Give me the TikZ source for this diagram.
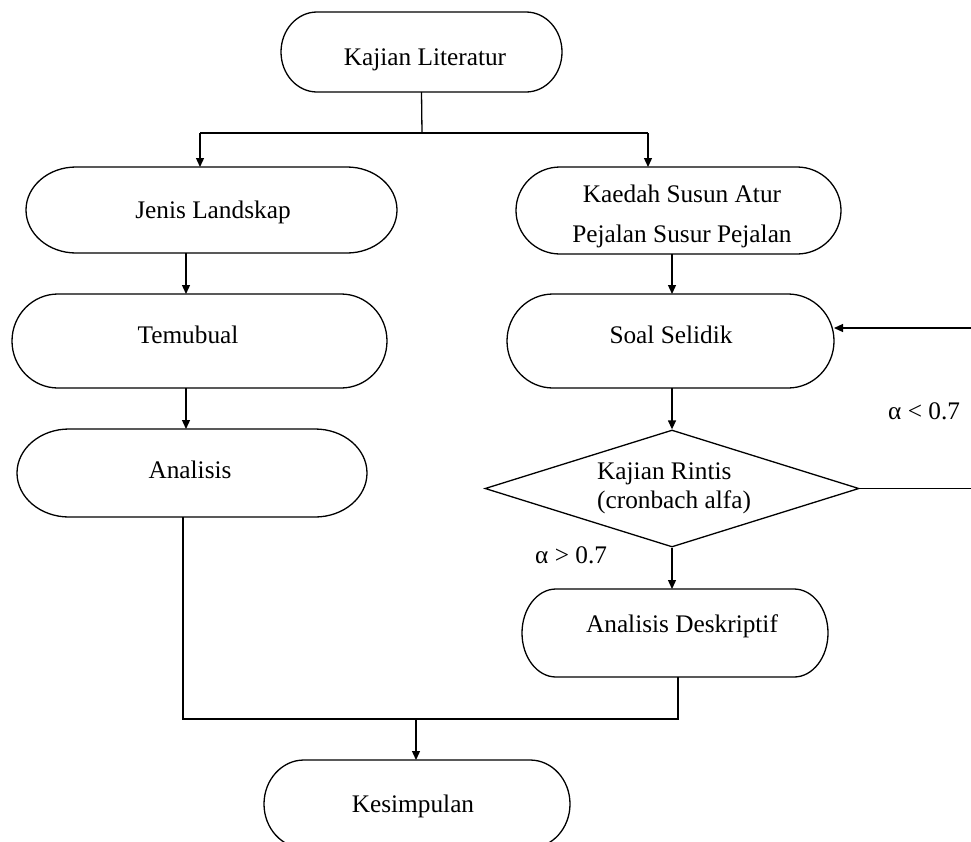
\documentclass[tikz,border=0pt]{standalone}
\usepackage{fontspec}
\setmainfont{Liberation Serif}
\usetikzlibrary{arrows.meta,shapes.geometric,calc}
\newcommand\stadium[3]{%
  \draw[outline] ($(#1.north west)+(#2,0)$) -- ($(#1.north east)+(-#2,0)$)
    arc[start angle=90,end angle=-90,x radius=#2pt,y radius=#3pt]
    -- ($(#1.south west)+(#2,0)$)
    arc[start angle=270,end angle=90,x radius=#2pt,y radius=#3pt] -- cycle;}
\begin{document}
\begin{tikzpicture}[x=1pt,y=-1pt,
  outline/.style={line width=1.3pt},
  box/.style={rectangle, line width=1.3pt, outer sep=0pt, inner sep=0pt},
  dia/.style={draw, diamond, line width=1.3pt, inner sep=0pt},
  txt/.style={font=\fontsize{25.3}{30}\selectfont, inner sep=0pt, anchor=base},
  conn/.style={line width=1.3pt},
  arr/.style={conn, -{Triangle[length=9pt,width=8pt]}}]
\useasboundingbox (0,0) rectangle (971,841);
\clip (0,0) rectangle (971,841);
% boxes
\node[box, minimum width=281pt, minimum height=80pt] (lit) at (421.5,52) {};
\node[box, minimum width=371pt, minimum height=86pt] (jenis) at (211.5,210) {};
\node[box, minimum width=325pt, minimum height=87pt] (kaedah) at (678.5,210.5) {};
\node[box, minimum width=375pt, minimum height=94pt] (temu) at (199.5,341) {};
\node[box, minimum width=327pt, minimum height=94pt] (soal) at (670.5,341) {};
\node[box, minimum width=350pt, minimum height=88pt] (anal) at (192,473) {};
\node[dia, minimum width=374pt, minimum height=117pt] (rintis) at (672,488.5) {};
\node[box, minimum width=306pt, minimum height=88pt] (desk) at (675,633) {};
\node[box, minimum width=306pt, minimum height=88pt] (kes) at (417,804) {};
\stadium{lit}{36}{40}
\stadium{jenis}{50}{43}
\stadium{kaedah}{44}{43.5}
\stadium{temu}{46}{47}
\stadium{soal}{46}{47}
\stadium{anal}{52}{44}
\stadium{desk}{34}{44}
\stadium{kes}{40}{44}
% texts
\node[txt] (tlit) at (425,65) {Kajian Literatur};
\node[txt] (tjenis) at (213,218) {Jenis Landskap};
\node[txt] (tk1) at (682,202) {Kaedah Susun Atur};
\node[txt] (tk2) at (682,242) {Pejalan Susur Pejalan};
\node[txt] (ttemu) at (188,343) {Temubual};
\node[txt] (tsoal) at (671,343) {Soal Selidik};
\node[txt] (tanal) at (190,478) {Analisis};
\node[txt, anchor=base west] (tr1) at (597,479) {Kajian Rintis};
\node[txt, anchor=base west] (tr2) at (597,508) {(cronbach alfa)};
\node[txt] (tdesk) at (682,632) {Analisis Deskriptif};
\node[txt] (tkes) at (413,812) {Kesimpulan};
\node[txt, anchor=base west] (lt) at (888,419) {α < 0.7};
\node[txt, anchor=base west] (gt) at (535,563) {α > 0.7};
% connectors
\coordinate (split) at (422,133);
\coordinate (sl) at (200,133);
\coordinate (sr) at (648,133);
\draw[conn] (lit.south) -- (split);
\draw[conn] (sl) -- (sr);
\draw[arr] (sl) -- (sl |- jenis.north);
\draw[arr] (sr) -- (sr |- kaedah.north);
\coordinate (c1) at (186,0);
\draw[arr] (c1 |- jenis.south) -- (c1 |- temu.north);
\draw[arr] (c1 |- temu.south) -- (c1 |- anal.north);
\coordinate (c2) at (672,0);
\draw[arr] (c2 |- kaedah.south) -- (c2 |- soal.north);
\draw[arr] (c2 |- soal.south) -- (rintis.north);
\draw[arr] (rintis.south) -- (rintis.south |- desk.north);
\coordinate (ml) at (183,719);
\coordinate (mr) at (678,719);
\draw[conn] (ml |- anal.south) -- (ml) -- (mr) -- (mr |- desk.south);
\coordinate (mk) at (416,719);
\draw[arr] (mk) -- (mk |- kes.north);
\coordinate (fb1) at (976,488.5);
\coordinate (fb2) at (976,328);
\draw[arr] (rintis.east) -- (fb1) -- (fb2) -- (fb2 -| soal.east);
\end{tikzpicture}
\end{document}
